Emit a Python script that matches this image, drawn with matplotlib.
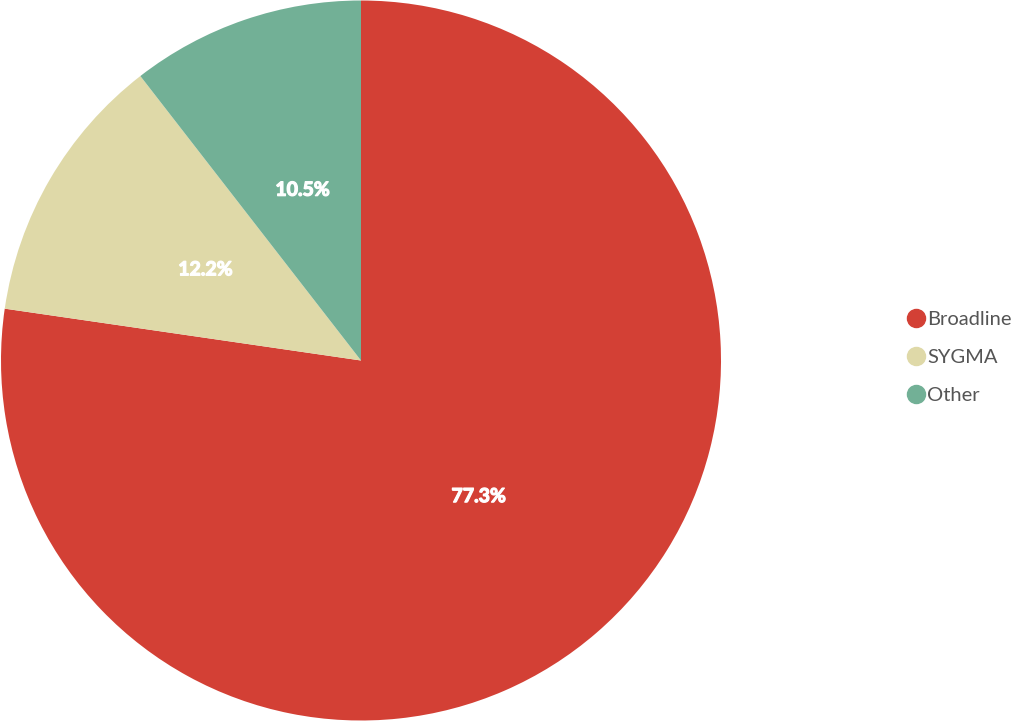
import matplotlib.pyplot as plt
import matplotlib.patheffects as pe
from matplotlib.lines import Line2D

labels = ['Broadline', 'SYGMA', 'Other']
shares = [77.3, 12.2, 10.5]
colors = ['#D34035', '#DFD9A8', '#72B096']

plt.rcParams['font.family'] = ['Lato', 'DejaVu Sans']

fig = plt.figure(figsize=(10.15, 7.21), dpi=100)
ax = fig.add_axes([1 / 1015, 0.5 / 721, 720 / 1015, 720 / 721])

wedges, texts, autotexts = ax.pie(
    shares, colors=colors, startangle=90, counterclock=False,
    autopct='%1.1f%%', pctdistance=0.5, radius=1.0,
    wedgeprops=dict(linewidth=0),
    textprops=dict(color='white', fontsize=14, fontweight='bold'))
# fake a heavier weight in case only regular Lato is installed
for t in autotexts:
    t.set_path_effects([pe.withStroke(linewidth=0.9, foreground='white')])
ax.set_xlim(-1, 1)
ax.set_ylim(-1, 1)
ax.set_aspect('equal')

handles = [Line2D([0], [0], marker='o', linestyle='', markersize=13,
                  markerfacecolor=c, markeredgecolor=c) for c in colors]
fig.legend(handles, labels, loc='center left', bbox_to_anchor=(0.885, 0.504),
           frameon=False, fontsize=14.5, labelcolor='#555555',
           handletextpad=0.05, handlelength=1.0, labelspacing=1.05,
           borderaxespad=0)

fig.savefig('out.png', dpi=100)
